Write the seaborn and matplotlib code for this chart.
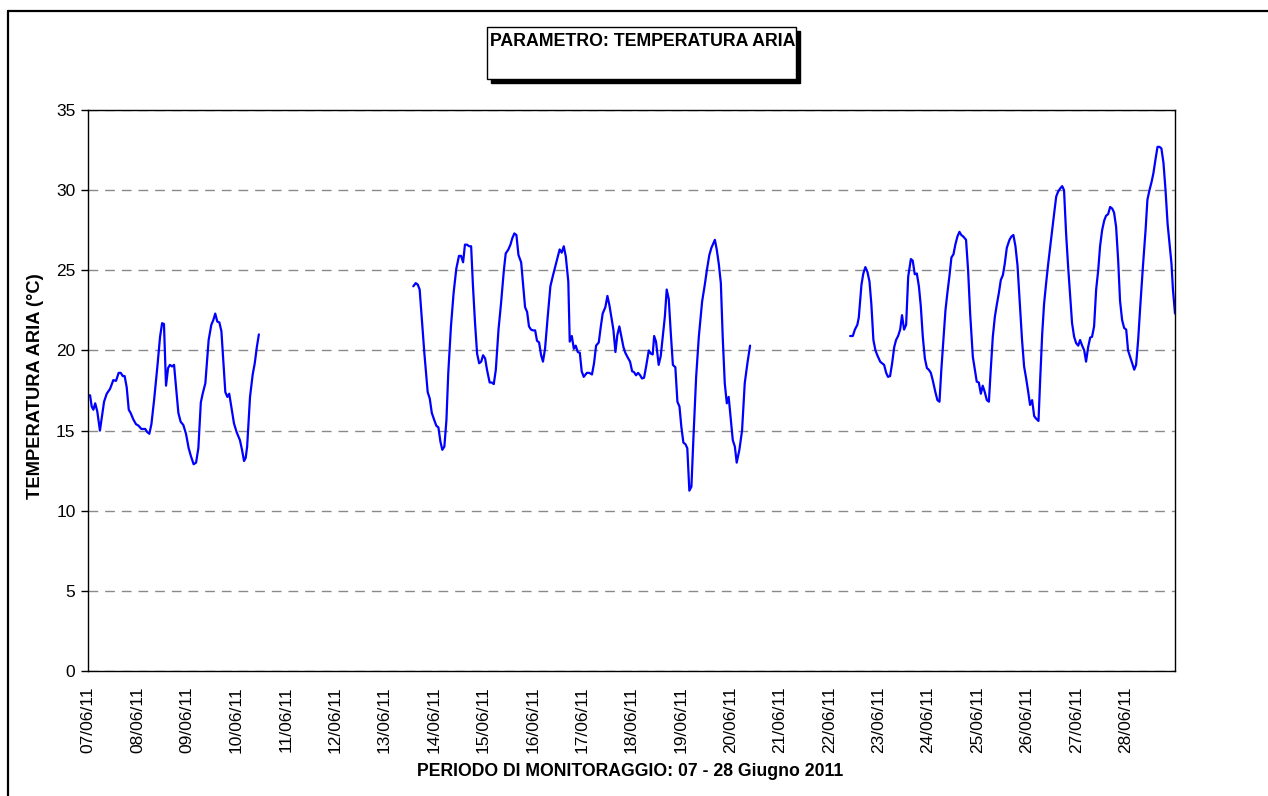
import numpy as np
import pandas as pd
import matplotlib
matplotlib.use("Agg")
import matplotlib.pyplot as plt
import matplotlib.dates as mdates
from matplotlib.patches import Rectangle
from matplotlib.lines import Line2D
import seaborn as sns

# ---------------- data (hours after 07/06/2011 00:00, air temperature °C) ----------------
start_date = "2011-06-07"
end_date = "2011-06-29"

seg1_hours = [
    0.0, 1.0, 1.8, 2.6, 3.5, 4.5, 5.8, 6.8, 7.8, 9.1,
    10.7, 12.3, 13.6, 14.9, 15.9, 16.9, 17.8, 18.8, 19.8, 20.7,
    22.0, 23.3, 24.6, 25.9, 27.8, 28.8, 29.8, 30.8, 32.1, 33.7,
    35.0, 36.0, 36.9, 37.9, 38.9, 39.8, 40.8, 41.8, 42.7, 43.9,
    45.0, 46.3, 47.6, 48.9, 50.0, 51.3, 52.5, 53.6, 54.8, 55.7,
    57.0, 58.6, 59.9, 60.9, 61.8, 62.8, 63.8, 64.8, 65.7, 66.7,
    67.7, 68.6, 69.6, 70.9, 72.2, 73.8, 74.8, 75.8, 76.6, 77.3,
    78.7, 80.0, 81.0, 82.0, 83.0]
seg1_temp = [
    17.2, 17.2, 16.5, 16.3, 16.7, 16.2, 15.0, 15.9, 16.8, 17.3,
    17.6, 18.15, 18.1, 18.6, 18.6, 18.4, 18.4, 17.7, 16.3, 16.1,
    15.7, 15.4, 15.3, 15.1, 15.1, 14.9, 14.8, 15.4, 16.9, 19.0,
    20.85, 21.7, 21.65, 17.8, 18.9, 19.1, 19.0, 19.1, 17.8, 16.1,
    15.55, 15.35, 14.8, 13.9, 13.4, 12.9, 13.0, 13.9, 16.75, 17.3,
    17.95, 20.65, 21.6, 21.9, 22.3, 21.8, 21.75, 21.2, 19.4, 17.4,
    17.1, 17.3, 16.5, 15.45, 14.9, 14.4, 13.8, 13.1, 13.3, 14.0,
    17.1, 18.5, 19.2, 20.2, 21.0]

seg2_hours = [
    158.0, 159.2, 160.2, 161.1, 162.1, 163.4, 165.0, 166.0, 167.0, 168.2,
    169.2, 170.2, 171.2, 172.1, 173.1, 174.1, 175.0, 176.3, 177.6, 178.9,
    180.2, 181.2, 182.2, 183.1, 184.1, 185.1, 186.1, 187.0, 188.0, 189.0,
    190.0, 191.0, 191.9, 192.9, 193.8, 195.1, 196.1, 197.1, 198.1, 199.4,
    200.6, 202.0, 202.9, 204.2, 205.2, 206.1, 207.1, 208.1, 209.1, 210.4,
    211.3, 212.3, 213.3, 214.2, 215.2, 216.2, 217.2, 218.1, 219.1, 220.1,
    221.0, 222.0, 223.3, 224.6, 225.9, 226.9, 228.2, 229.1, 230.1, 231.1,
    232.1, 233.3, 234.0, 235.0, 236.0, 236.9, 237.9, 238.9, 239.8, 240.8,
    242.3, 243.5, 244.8, 245.8, 246.8, 248.1, 249.1, 250.0, 251.3, 252.3,
    253.3, 254.2, 255.2, 256.2, 257.1, 258.1, 259.1, 260.1, 261.0, 262.0,
    263.3, 264.3, 265.2, 266.2, 267.2, 268.2, 269.1, 270.1, 271.1, 272.4,
    273.4, 274.3, 275.0, 275.9, 277.2, 278.2, 279.2, 280.2, 281.1, 282.1,
    283.1, 284.1, 285.3, 286.3, 287.3, 288.2, 289.2, 290.2, 291.1, 292.1,
    293.1, 294.1, 295.4, 296.7, 298.3, 299.6, 300.6, 301.8, 302.8, 303.8,
    304.5, 305.4, 306.4, 307.4, 308.3, 309.3, 310.3, 311.2, 312.2, 313.2,
    314.2, 315.1, 316.4, 317.7, 319.0, 320.3, 321.6]
seg2_temp = [
    24.0, 24.2, 24.1, 23.8, 22.1, 19.8, 17.4, 17.0, 16.1, 15.65,
    15.3, 15.2, 14.3, 13.8, 14.0, 15.65, 18.6, 21.5, 23.6, 25.1,
    25.9, 25.9, 25.5, 26.6, 26.6, 26.5, 26.5, 24.0, 21.7, 19.8,
    19.2, 19.3, 19.7, 19.5, 18.8, 18.0, 18.0, 17.9, 18.8, 21.3,
    22.9, 25.0, 26.05, 26.3, 26.6, 27.0, 27.3, 27.2, 25.95, 25.5,
    24.2, 22.7, 22.4, 21.5, 21.3, 21.25, 21.25, 20.6, 20.5, 19.7,
    19.3, 20.1, 22.1, 24.0, 24.7, 25.2, 25.85, 26.3, 26.1, 26.5,
    25.85, 24.3, 20.55, 20.9, 20.1, 20.3, 19.9, 19.85, 18.7, 18.35,
    18.6, 18.6, 18.5, 19.2, 20.3, 20.5, 21.5, 22.3, 22.7, 23.4,
    22.8, 22.1, 21.3, 19.9, 20.95, 21.5, 20.85, 20.2, 19.85, 19.6,
    19.3, 18.7, 18.65, 18.45, 18.6, 18.45, 18.25, 18.3, 19.0, 20.0,
    19.8, 19.75, 20.9, 20.55, 19.1, 19.65, 20.85, 22.1, 23.8, 23.2,
    21.05, 19.1, 18.95, 16.8, 16.5, 15.25, 14.25, 14.15, 13.9, 11.25,
    11.5, 14.6, 18.35, 20.85, 23.05, 24.1, 25.0, 25.95, 26.4, 26.7,
    26.9, 26.3, 25.4, 24.2, 20.85, 17.95, 16.7, 17.1, 15.75, 14.4,
    14.0, 13.0, 13.8, 15.0, 17.95, 19.2, 20.3]

seg3_hours = [
    370.2, 371.5, 372.5, 373.7, 374.4, 375.7, 376.6, 377.6, 378.6, 379.6,
    380.5, 381.5, 382.5, 383.4, 384.8, 385.7, 386.7, 387.7, 388.6, 389.6,
    390.6, 391.6, 392.5, 393.5, 394.5, 395.4, 396.4, 397.4, 398.4, 399.7,
    400.6, 401.6, 402.6, 403.6, 404.5, 405.5, 406.5, 407.5, 408.4, 409.4,
    410.4, 411.6, 412.6, 413.6, 414.5, 415.5, 416.5, 417.4, 418.4, 419.4,
    420.4, 421.3, 422.3, 423.3, 424.2, 425.2, 426.5, 427.5, 428.5, 429.8,
    430.8, 431.7, 432.7, 433.7, 434.6, 435.6, 436.6, 437.6, 438.5, 439.5,
    440.5, 441.5, 442.4, 443.4, 444.4, 445.3, 446.3, 447.6, 448.5, 449.5,
    450.5, 451.5, 452.4, 453.7, 454.7, 455.7, 456.6, 457.6, 458.6, 459.6,
    460.5, 461.7, 462.5, 463.5, 464.4, 465.4, 466.4, 467.4, 468.3, 469.3,
    470.3, 471.2, 472.2, 473.2, 474.1, 475.1, 476.1, 477.1, 478.0, 479.0,
    480.0, 481.0, 481.9, 482.9, 483.9, 484.8, 485.8, 486.8, 487.7, 488.7,
    489.7, 490.7, 491.6, 492.6, 493.6, 494.5, 495.5, 496.5, 497.5, 498.4,
    499.4, 500.4, 501.3, 502.3, 503.3, 504.3, 505.2, 506.2, 507.2, 508.2,
    509.1, 510.1, 511.1, 512.4, 513.7, 514.6, 515.6, 516.6, 517.5, 518.5,
    519.5, 520.5, 521.4, 522.4, 523.4, 524.4, 525.3, 526.3, 527.0, 528.0]
seg3_temp = [
    20.9, 20.9, 21.3, 21.6, 22.05, 24.1, 24.8, 25.2, 24.9, 24.3,
    22.9, 20.65, 20.0, 19.7, 19.3, 19.2, 19.1, 18.6, 18.35, 18.4,
    19.2, 20.2, 20.65, 20.9, 21.3, 22.2, 21.3, 21.6, 24.6, 25.7,
    25.6, 24.75, 24.8, 24.0, 22.8, 20.85, 19.5, 18.9, 18.8, 18.6,
    18.1, 17.4, 16.9, 16.8, 18.8, 20.65, 22.5, 23.55, 24.6, 25.8,
    26.0, 26.6, 27.1, 27.4, 27.2, 27.1, 26.9, 25.0, 22.3, 19.6,
    18.8, 18.05, 18.0, 17.3, 17.8, 17.4, 16.9, 16.8, 18.8, 20.85,
    22.1, 22.9, 23.55, 24.4, 24.7, 25.4, 26.4, 26.9, 27.1, 27.2,
    26.5, 25.3, 23.35, 20.65, 19.0, 18.25, 17.5, 16.6, 16.9, 15.9,
    15.75, 15.6, 18.15, 21.05, 22.9, 24.2, 25.4, 26.5, 27.5, 28.55,
    29.6, 29.9, 30.1, 30.25, 30.0, 27.3, 25.2, 23.35, 21.7, 20.85,
    20.45, 20.3, 20.65, 20.3, 20.0, 19.3, 20.2, 20.8, 20.85, 21.5,
    23.8, 25.0, 26.5, 27.5, 28.1, 28.4, 28.5, 28.95, 28.85, 28.6,
    27.7, 25.6, 23.1, 21.9, 21.4, 21.3, 20.0, 19.6, 19.2, 18.8,
    19.1, 20.65, 22.7, 25.2, 27.5, 29.4, 30.0, 30.5, 31.05, 31.9,
    32.7, 32.7, 32.6, 31.7, 30.0, 27.9, 26.7, 25.4, 23.8, 22.3]

y_ticks = [0, 5, 10, 15, 20, 25, 30, 35]
title_text = "PARAMETRO: TEMPERATURA ARIA"
y_label = "TEMPERATURA ARIA (°C)"
x_label = "PERIODO DI MONITORAGGIO: 07 - 28 Giugno 2011"

# ---------------- build table ----------------
frames = []
for i, (hrs, tmp) in enumerate([(seg1_hours, seg1_temp),
                                (seg2_hours, seg2_temp),
                                (seg3_hours, seg3_temp)]):
    t0 = pd.Timestamp(start_date)
    frames.append(pd.DataFrame({
        "time": t0 + pd.to_timedelta(np.array(hrs), unit="h"),
        "temp": tmp,
        "segment": i,
    }))
df = pd.concat(frames, ignore_index=True)

# ---------------- figure ----------------
sns.set_theme(style="white")
plt.rcParams["font.family"] = ["Liberation Sans", "DejaVu Sans"]

W, H = 1268, 796
fig = plt.figure(figsize=(W / 100, H / 100), dpi=100)
fig.patch.set_facecolor("white")

def fx(px):
    return px / W

def fy(py):
    return 1 - py / H

L, R, T, B = 88, 1175, 110, 671
ax = fig.add_axes([fx(L), fy(B), fx(R - L), (B - T) / H])

sns.lineplot(data=df, x="time", y="temp", units="segment", estimator=None,
             color="#0000FF", linewidth=1.6, ax=ax, legend=False)

ax.set_xlim(pd.Timestamp(start_date), pd.Timestamp(end_date))
ax.set_ylim(0, 35)
ax.set_yticks(y_ticks)
ticks = pd.date_range(start_date, "2011-06-28", freq="D")
ax.set_xticks(ticks)
ax.set_xticklabels([t.strftime("%d/%m/%y") for t in ticks], rotation=90)

ax.tick_params(axis="x", length=0, pad=11, labelsize=12.5, colors="black")
ax.tick_params(axis="y", length=5, width=1, pad=4, labelsize=12.5,
               colors="black", left=True)
ax.set_xlabel("")
ax.set_ylabel("")

ax.yaxis.grid(True, color="#8a8a8a", linestyle=(0, (7, 5)), linewidth=1.0)
ax.xaxis.grid(False)
for s in ax.spines.values():
    s.set_visible(True)
    s.set_color("black")
    s.set_linewidth(1.0)

# axis titles
fig.text(fx(36), fy(386), y_label, rotation=90, ha="center", va="center",
         fontsize=13.2, fontweight="bold", color="black")
fig.text(fx(630), fy(771), x_label, ha="center", va="center",
         fontsize=12.7, fontweight="bold", color="black")

# title box with shadow
bx0, by0, bx1, by1 = 487, 27, 796, 79
shadow = Rectangle((fx(bx0 + 4), fy(by1 + 4)), fx(bx1 - bx0), (by1 - by0) / H,
                   transform=fig.transFigure, facecolor="black",
                   edgecolor="black", zorder=1)
box = Rectangle((fx(bx0), fy(by1)), fx(bx1 - bx0), (by1 - by0) / H,
                transform=fig.transFigure, facecolor="white",
                edgecolor="black", linewidth=1.0, zorder=2)
fig.add_artist(shadow)
fig.add_artist(box)
fig.text(fx(490), fy(41), title_text, ha="left", va="center",
         fontsize=12.8, fontweight="bold", color="black", zorder=3)

# outer chart frame
fig.add_artist(Line2D([fx(8), fx(W + 5)], [fy(10.5), fy(10.5)],
                      transform=fig.transFigure, color="black", linewidth=1.6))
fig.add_artist(Line2D([fx(8), fx(8)], [fy(10.5), fy(H + 5)],
                      transform=fig.transFigure, color="black", linewidth=1.6))

fig.savefig("out.png", dpi=100, facecolor="white")
